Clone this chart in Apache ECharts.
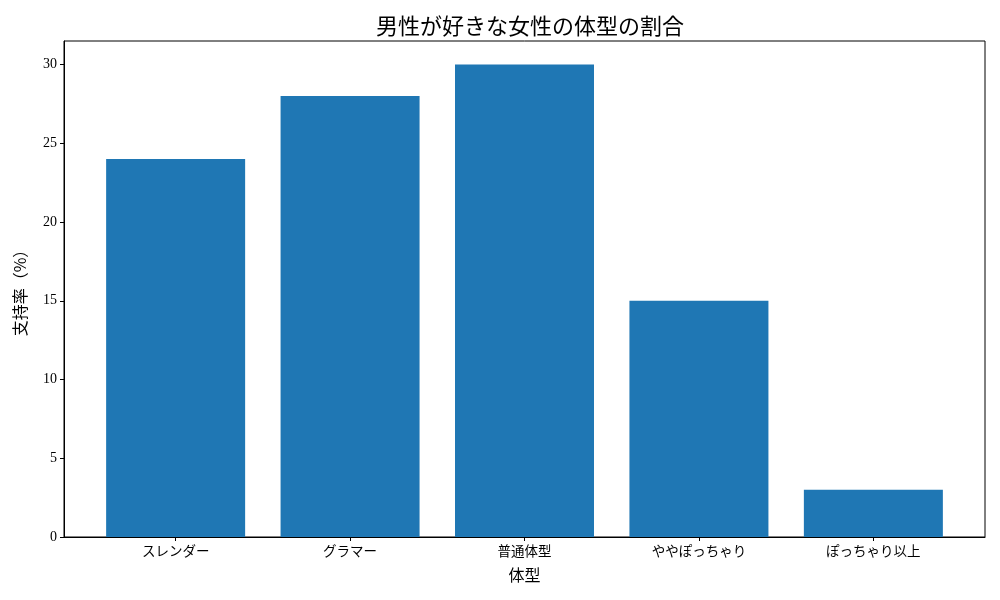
<!doctype html>
<html lang="ja">
<head>
    <meta charset="UTF-8">
    <title>男性が好きな女性の体型の割合</title>
    <script src="https://cdn.jsdelivr.net/npm/echarts@6/dist/echarts.min.js"></script>
    <style>
        html, body { margin: 0; padding: 0; background: #fff; }
    </style>
</head>
<body>
<div id="main" style="width: 1000px;height:600px;"></div>
<script type="text/javascript">
    // データ
    var categories = ['スレンダー', 'グラマー', '普通体型', 'ややぽっちゃり', 'ぽっちゃり以上'];
    var values = [24, 28, 30, 15, 3];
    var yTicks = [0, 5, 10, 15, 20, 25, 30];

    var jpFont = '"Noto Sans CJK JP", sans-serif';
    var numFont = '"Liberation Serif", "DejaVu Serif", serif';

    var chart = echarts.init(document.getElementById('main'));

    // matplotlib風: 棒の中心を 0..4 に置き、左右に余白
    var positions = categories.map(function (c, i) { return i; });
    var barData = values.map(function (v, i) { return [positions[i], v]; });

    var option = {
        animation: false,
        title: {
            text: '男性が好きな女性の体型の割合',
            left: 525,
            textAlign: 'center',
            top: 10,
            textStyle: {
                fontFamily: jpFont,
                fontWeight: 'normal',
                fontSize: 22,
                color: '#000'
            }
        },
        grid: {
            left: 64,
            right: 15,
            top: 41,
            bottom: 63,
            show: true,
            borderColor: '#000',
            borderWidth: 1,
            containLabel: false
        },
        xAxis: {
            type: 'value',
            min: -0.64,
            max: 4.64,
            name: '体型',
            nameLocation: 'middle',
            nameGap: 30,
            nameTextStyle: { fontFamily: jpFont, fontSize: 16, color: '#000' },
            splitLine: { show: false },
            axisLine: { show: true, onZero: false, lineStyle: { color: '#000', width: 1 } },
            axisTick: {
                show: true,
                length: 4,
                customValues: positions,
                lineStyle: { color: '#000' }
            },
            axisLabel: {
                customValues: positions,
                margin: 7,
                fontFamily: jpFont,
                fontSize: 13.5,
                color: '#000',
                formatter: function (v) { return categories[Math.round(v)]; }
            }
        },
        yAxis: {
            type: 'value',
            min: 0,
            max: 31.5,
            name: '支持率（%）',
            nameLocation: 'middle',
            nameGap: 36,
            nameTextStyle: { fontFamily: jpFont, fontSize: 16, color: '#000' },
            splitLine: { show: false },
            axisLine: { show: true, onZero: false, lineStyle: { color: '#000', width: 1 } },
            axisTick: {
                show: true,
                length: 4,
                customValues: yTicks,
                lineStyle: { color: '#000' }
            },
            axisLabel: {
                customValues: yTicks,
                margin: 7,
                fontFamily: numFont,
                fontSize: 14,
                color: '#000'
            }
        },
        series: [{
            type: 'bar',
            data: barData,
            barWidth: 139,
            itemStyle: { color: '#1f77b4' }
        }]
    };

    chart.setOption(option);
</script>
</body>
</html>
